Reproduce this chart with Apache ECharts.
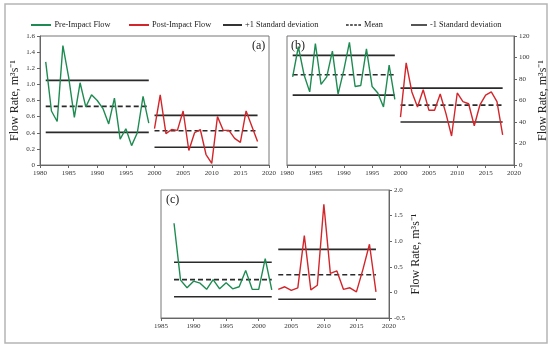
<!DOCTYPE html>
<html>
<head>
<meta charset="utf-8">
<script src="https://cdn.jsdelivr.net/npm/echarts@6/dist/echarts.min.js"></script>
<style>html,body{margin:0;padding:0;background:#fff}#c{width:550px;height:349px}</style>
</head>
<body>
<div id="c"></div>
<script>
// ---- Data ----
const legendNames = ['Pre-Impact Flow', 'Post-Impact Flow', '+1 Standard deviation', 'Mean', '-1 Standard deviation'];

// Panel (a)
const aPreStart = 1981;
const aPreValues = [1.28, 0.67, 0.54, 1.48, 1.09, 0.59, 1.02, 0.72, 0.87, 0.80, 0.70, 0.51, 0.83, 0.32, 0.45, 0.24, 0.40, 0.85, 0.52];
const aPostStart = 2000;
const aPostValues = [0.45, 0.87, 0.39, 0.44, 0.43, 0.67, 0.18, 0.40, 0.44, 0.13, 0.02, 0.60, 0.43, 0.43, 0.33, 0.28, 0.67, 0.48, 0.29];
const aPreBands = [1.05, 0.727, 0.405];   // +1 SD, mean, -1 SD
const aPostBands = [0.615, 0.425, 0.22];
const aYTicks = [0, 1.6, 0.2];            // min, max, step
const aXTicks = [1980, 2020, 5];

// Panel (b)
const bPreStart = 1981;
const bPreValues = [82, 110, 84, 68, 113, 75, 82, 106, 66, 88, 114, 73, 74, 108, 73, 67, 54, 93, 61];
const bPostStart = 2000;
const bPostValues = [44.5, 95, 68, 54, 70, 51, 51, 66, 48, 27, 67, 59, 57, 36.5, 56, 65, 68, 59, 28];
const bPreBands = [102, 84, 65];
const bPostBands = [71.5, 55.7, 40];
const bYTicks = [0, 120, 20];
const bXTicks = [1980, 2020, 5];

// Panel (c)
const cPreStart = 1987;
const cPreValues = [1.35, 0.24, 0.09, 0.22, 0.18, 0.06, 0.25, 0.07, 0.19, 0.07, 0.11, 0.43, 0.06, 0.06, 0.66, 0.05];
const cPostStart = 2003;
const cPostValues = [0.06, 0.11, 0.04, 0.09, 1.11, 0.05, 0.14, 1.72, 0.37, 0.42, 0.06, 0.09, 0.01, 0.45, 0.94, 0.01];
const cPreBands = [0.59, 0.25, -0.085];
const cPostBands = [0.84, 0.345, -0.135];
const cYTicks = [-0.5, 2.0, 0.5];
const cXTicks = [1985, 2020, 5];

const yTitle = 'Flow Rate, m\u00B3s\u207B\u00B9';

// ---- Build ----
const FONT = 'Liberation Serif';
const GREEN = '#1e8c52';
const RED = '#d3262b';
const BLACK = '#2a2a2a';

function pairs(start, vals) { return vals.map((v, i) => [start + i, v]); }

function bandSeries(idx, start, count, bands) {
  const x0 = start, x1 = start + count - 1;
  const names = [legendNames[2], legendNames[3], legendNames[4]];
  return bands.map((v, k) => ({
    name: names[k], type: 'line', xAxisIndex: idx, yAxisIndex: idx,
    data: [[x0, v], [x1, v]], symbol: 'none', silent: true,
    lineStyle: { color: BLACK, width: 1.6, type: k === 1 ? [5, 3] : 'solid' },
    itemStyle: { color: BLACK }, z: 2
  }));
}

function panelSeries(idx, preStart, preVals, postStart, postVals, preBands, postBands) {
  return [
    { name: legendNames[0], type: 'line', xAxisIndex: idx, yAxisIndex: idx, data: pairs(preStart, preVals),
      symbol: 'none', lineStyle: { color: GREEN, width: 1.4 }, itemStyle: { color: GREEN }, z: 3 },
    { name: legendNames[1], type: 'line', xAxisIndex: idx, yAxisIndex: idx, data: pairs(postStart, postVals),
      symbol: 'none', lineStyle: { color: RED, width: 1.4 }, itemStyle: { color: RED }, z: 3 },
    ...bandSeries(idx, preStart, preVals.length, preBands),
    ...bandSeries(idx, postStart, postVals.length, postBands)
  ];
}

const labelStyle = { fontFamily: FONT, fontSize: 7, color: '#333' };

function xAxis(idx, t) {
  return { type: 'value', gridIndex: idx, min: t[0], max: t[1], interval: t[2],
    axisLine: { show: true, onZero: false, lineStyle: { color: '#666', width: 1 } },
    axisTick: { show: true, length: 3, lineStyle: { color: '#666' } },
    splitLine: { show: false },
    axisLabel: { ...labelStyle, margin: 5, formatter: v => String(v) } };
}
function yAxis(idx, t, pos, gap, dec) {
  return { type: 'value', gridIndex: idx, min: t[0], max: t[1], interval: t[2], position: pos,
    name: yTitle, nameLocation: 'middle', nameGap: gap,
    nameTextStyle: { fontFamily: FONT, fontSize: 12, color: '#222' },
    axisLine: { show: true, onZero: false, lineStyle: { color: '#666', width: 1 } },
    axisTick: { show: true, length: 3, lineStyle: { color: '#666' } },
    splitLine: { show: false },
    axisLabel: { ...labelStyle, margin: 5, formatter: v => v === 0 ? '0' : (dec ? v.toFixed(1) : String(v)) } };
}

const solidIcon = 'path://M0,0h20v2h-20z';
const dashIcon = 'path://M0,0h3.4v2h-3.4zM5.2,0h3.4v2h-3.4zM10.4,0h3.4v2h-3.4zM15.6,0h3.4v2h-3.4z';
const legendLefts = [26, 124, 218, 341, 406];
const legendIconW = [21, 20, 19, 15, 16];
const legendIconColors = [GREEN, RED, BLACK, BLACK, BLACK];
const legends = legendNames.map((n, i) => ({
  data: [{ name: n, icon: i === 3 ? dashIcon : solidIcon, itemStyle: { color: legendIconColors[i] } }],
  left: legendLefts[i], top: 16, itemWidth: legendIconW[i], itemHeight: 2, itemGap: 0,
  textStyle: { fontFamily: FONT, fontSize: 8.3, color: '#222', padding: [0, 0, 0, -2] }, selectedMode: false
}));

const option = {
  animation: false,
  backgroundColor: '#fff',
  legend: legends,
  grid: [
    { left: 40, top: 36, width: 229, height: 129, show: true, borderColor: '#777', borderWidth: 1 },
    { left: 287, top: 36, width: 228, height: 129, show: true, borderColor: '#777', borderWidth: 1 },
    { left: 161, top: 190, width: 228, height: 128, show: true, borderColor: '#777', borderWidth: 1 }
  ],
  xAxis: [xAxis(0, aXTicks), xAxis(1, bXTicks), xAxis(2, cXTicks)],
  yAxis: [yAxis(0, aYTicks, 'left', 19, true), yAxis(1, bYTicks, 'right', 23, false), yAxis(2, cYTicks, 'right', 21, true)],
  series: [
    ...panelSeries(0, aPreStart, aPreValues, aPostStart, aPostValues, aPreBands, aPostBands),
    ...panelSeries(1, bPreStart, bPreValues, bPostStart, bPostValues, bPreBands, bPostBands),
    ...panelSeries(2, cPreStart, cPreValues, cPostStart, cPostValues, cPreBands, cPostBands)
  ],
  graphic: [
    { type: 'rect', shape: { x: 5, y: 4, width: 542, height: 339 }, style: { fill: 'none', stroke: '#b5b5b5', lineWidth: 1.5 }, silent: true },
    { type: 'text', left: 252, top: 40, style: { text: '(a)', fontFamily: FONT, fontSize: 12, fill: '#222' } },
    { type: 'text', left: 291, top: 40, style: { text: '(b)', fontFamily: FONT, fontSize: 12, fill: '#222' } },
    { type: 'text', left: 166, top: 194, style: { text: '(c)', fontFamily: FONT, fontSize: 12, fill: '#222' } }
  ]
};

const chart = echarts.init(document.getElementById('c'), null, { renderer: 'canvas' });
chart.setOption(option);
</script>
</body>
</html>
